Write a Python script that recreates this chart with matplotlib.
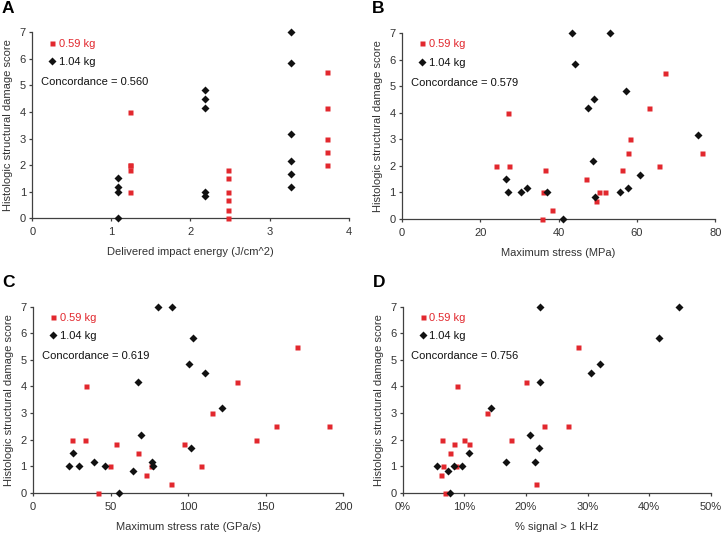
import matplotlib
matplotlib.use("Agg")
import matplotlib.pyplot as plt
from matplotlib.ticker import FuncFormatter

plt.rcParams['font.family'] = ['Liberation Sans', 'DejaVu Sans']
plt.rcParams['font.size'] = 8

RED = '#e2282e'
BLACK = '#111111'
GREY = '#333333'

# Panel A - delivered impact energy (J/cm^2)
a_red_x = [1.23, 1.23, 1.23, 1.23, 1.23, 2.48, 2.48, 2.48, 2.48, 2.48, 2.48, 3.72, 3.72, 3.72, 3.72, 3.72]
a_red_y = [4.0, 2.0, 2.0, 1.83, 1.0, 1.83, 1.5, 1.0, 0.67, 0.33, 0.0, 5.5, 4.17, 3.0, 2.5, 2.0]
a_blk_x = [1.09, 1.09, 1.09, 1.09, 2.18, 2.18, 2.18, 2.18, 2.18, 3.27, 3.27, 3.27, 3.27, 3.27, 3.27]
a_blk_y = [1.5, 1.17, 1.0, 0.0, 4.83, 4.5, 4.17, 1.0, 0.83, 7.0, 5.83, 3.17, 2.17, 1.67, 1.17]

# Panel B - maximum stress (MPa)
b_red_x = [24.1, 27.0, 27.2, 36.6, 35.9, 35.7, 38.3, 47.1, 49.5, 50.4, 51.8, 56.3, 57.6, 58.1, 63.1, 65.6, 67.1, 76.6]
b_red_y = [2.0, 4.0, 2.0, 1.83, 1.0, 0.0, 0.33, 1.5, 0.67, 1.0, 1.0, 1.83, 2.5, 3.0, 4.17, 2.0, 5.5, 2.5]
b_blk_x = [43.3, 53.0, 44.3, 57.1, 49.0, 47.5, 75.7, 48.9, 60.8, 26.6, 31.9, 57.7, 27.0, 30.3, 37.0, 55.7, 49.4, 41.0]
b_blk_y = [7.0, 7.0, 5.83, 4.83, 4.5, 4.17, 3.17, 2.17, 1.67, 1.5, 1.17, 1.17, 1.0, 1.0, 1.0, 1.0, 0.83, 0.0]

# Panel C - maximum stress rate (GPa/s)
c_red_x = [25.1, 33.3, 34.1, 41.9, 49.8, 53.3, 67.7, 72.8, 76.0, 89.2, 97.3, 108.1, 115.1, 131.3, 143.7, 156.8, 169.9, 190.5]
c_red_y = [2.0, 2.0, 4.0, 0.0, 1.0, 1.83, 1.5, 0.67, 1.0, 0.33, 1.83, 1.0, 3.0, 4.17, 2.0, 2.5, 5.5, 2.5]
c_blk_x = [80.8, 89.8, 103.3, 100.5, 110.8, 67.7, 122.0, 69.6, 101.6, 25.8, 39.3, 76.7, 23.0, 29.4, 46.2, 77.6, 64.4, 55.6]
c_blk_y = [7.0, 7.0, 5.83, 4.83, 4.5, 4.17, 3.17, 2.17, 1.67, 1.5, 1.17, 1.17, 1.0, 1.0, 1.0, 1.0, 0.83, 0.0]

# Panel D - % signal > 1 kHz
d_red_x = [6.4, 8.8, 8.4, 7.7, 6.5, 6.2, 6.8, 10.0, 10.7, 8.6, 13.7, 17.6, 20.0, 21.7, 22.9, 26.8, 28.5]
d_red_y = [2.0, 4.0, 1.83, 1.5, 1.0, 0.67, 0.0, 2.0, 1.83, 1.0, 3.0, 2.0, 4.17, 0.33, 2.5, 2.5, 5.5]
d_blk_x = [22.3, 44.8, 41.6, 32.1, 30.5, 22.3, 14.3, 20.7, 22.1, 10.7, 16.7, 21.4, 5.5, 8.4, 9.6, 7.4, 7.7]
d_blk_y = [7.0, 7.0, 5.83, 4.83, 4.5, 4.17, 3.17, 2.17, 1.67, 1.5, 1.17, 1.17, 1.0, 1.0, 1.0, 0.83, 0.0]

panels = [
    ('A', [0.0447, 0.5912, 0.4382, 0.3483], a_red_x, a_red_y, a_blk_x, a_blk_y,
     'Delivered impact energy (J/cm^2)', (0, 4), [0, 1, 2, 3, 4], '0.560'),
    ('B', [0.5568, 0.5899, 0.4339, 0.3483], b_red_x, b_red_y, b_blk_x, b_blk_y,
     'Maximum stress (MPa)', (0, 80), [0, 20, 40, 60, 80], '0.579'),
    ('C', [0.0457, 0.0773, 0.4298, 0.3483], c_red_x, c_red_y, c_blk_x, c_blk_y,
     'Maximum stress rate (GPa/s)', (0, 200), [0, 50, 100, 150, 200], '0.619'),
    ('D', [0.5578, 0.0773, 0.4266, 0.3483], d_red_x, d_red_y, d_blk_x, d_blk_y,
     '% signal > 1 kHz', (0, 50), [0, 10, 20, 30, 40, 50], '0.756'),
]

fig = plt.figure(figsize=(7.22, 5.34), dpi=100)

for letter, rect, rx, ry, bx, by, xlabel, xlim, xticks, conc in panels:
    ax = fig.add_axes(rect)
    ax.plot(rx, ry, ls='none', marker='s', ms=3.6, color=RED, mec='none',
            label='0.59 kg', clip_on=False, zorder=3)
    ax.plot(bx, by, ls='none', marker='D', ms=3.8, color=BLACK, mec='none',
            label='1.04 kg', clip_on=False, zorder=3)

    ax.set_xlim(xlim)
    ax.set_ylim(0, 7)
    ax.set_xticks(xticks)
    ax.set_yticks(range(8))
    if letter == 'D':
        ax.xaxis.set_major_formatter(FuncFormatter(lambda v, p: f'{v:.0f}%'))

    for s in ['top', 'right']:
        ax.spines[s].set_visible(False)
    for s in ['left', 'bottom']:
        ax.spines[s].set_color('#404040')
        ax.spines[s].set_linewidth(0.9)
    ax.tick_params(direction='out', length=2.5, width=0.9, color='#404040',
                   labelcolor=GREY, labelsize=8, pad=2)
    ax.tick_params(axis='x', pad=4)

    ax.set_xlabel(xlabel, color=GREY, fontsize=8)
    ax.set_ylabel('Histologic structural damage score', color=GREY, fontsize=8)
    ax.xaxis.set_label_coords(0.5, -0.155)
    ax.yaxis.set_label_coords(-0.06, 0.5)

    leg = ax.legend(loc='upper left', bbox_to_anchor=(0.041, 0.99), frameon=False,
                    handlelength=0.5, handletextpad=0.35, labelspacing=0.75,
                    borderaxespad=0, fontsize=8)
    leg.get_texts()[0].set_color(RED)
    leg.get_texts()[1].set_color(BLACK)

    ax.text(0.028, 0.733, 'Concordance = ' + conc, transform=ax.transAxes,
            ha='left', va='center', color=BLACK, fontsize=8)

    fig.text(rect[0] - 0.042, rect[1] + rect[3] + 0.045, letter, fontsize=12.5,
             fontweight='bold', ha='left', va='center')

fig.savefig('out.png', dpi=100)
